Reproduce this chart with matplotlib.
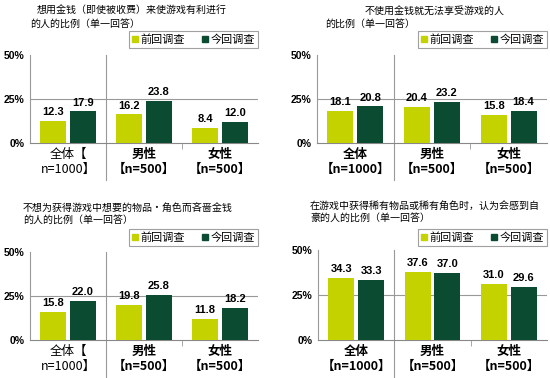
import numpy as np
import matplotlib
matplotlib.use("Agg")
import matplotlib.pyplot as plt
from matplotlib.patches import Patch
from matplotlib.transforms import blended_transform_factory

CJK = ['Noto Sans CJK SC', 'DejaVu Sans']
NUM = ['Liberation Sans', 'DejaVu Sans']

light = '#c4d300'
dark = '#0b4b32'

series_names = ['前回调查', '今回调查']

titles = [
    ['想用金钱（即使被收费）来使游戏有利进行', '的人的比例（单一回答）'],
    ['不使用金钱就无法享受游戏的人', '的比例（单一回答）'],
    ['不想为获得游戏中想要的物品・角色而吝啬金钱', '的人的比例（单一回答）'],
    ['在游戏中获得稀有物品或稀有角色时，认为会感到自', '豪的人的比例（单一回答）'],
]

prev_vals = [
    [12.3, 16.2, 8.4],
    [18.1, 20.4, 15.8],
    [15.8, 19.8, 11.8],
    [34.3, 37.6, 31.0],
]
curr_vals = [
    [17.9, 23.8, 12.0],
    [20.8, 23.2, 18.4],
    [22.0, 25.8, 18.2],
    [33.3, 37.0, 29.6],
]

cat_labels_a = ['全体【\nn=1000】', '男性\n【n=500】', '女性\n【n=500】']
cat_labels_b = ['全体\n【n=1000】', '男性\n【n=500】', '女性\n【n=500】']
cat_sets = [cat_labels_a, cat_labels_b, cat_labels_a, cat_labels_b]

yticks = [0, 25, 50]
ytick_labels = ['0%', '25%', '50%']

W, H = 550, 378
fig = plt.figure(figsize=(5.5, 3.78), dpi=100)

# pixel boxes: (left, right, top, bottom)
axes_px = [(30, 258, 55, 143), (317, 547, 55, 143),
           (30, 258, 252, 340), (318, 547, 250, 340)]
title_px = [((37, 11), (30, 24)), ((365, 12), (325, 24)),
            ((23, 208), (23, 220)), ((310, 206), (310, 218))]
legend_px = [(258, 31), (547, 31), (258, 229), (547, 229)]

x = np.arange(3)
bw = 0.34

for k in range(4):
    l, r, t, b = axes_px[k]
    ax = fig.add_axes([l / W, 1 - b / H, (r - l) / W, (b - t) / H])
    ax.bar(x - 0.195, prev_vals[k], bw, color=light, zorder=3)
    ax.bar(x + 0.195, curr_vals[k], bw, color=dark, zorder=3)
    for i in range(3):
        ax.text(x[i] - 0.195, prev_vals[k][i] + 2.2, f'{prev_vals[k][i]:.1f}',
                ha='center', va='bottom', fontsize=8, fontweight='bold', family=NUM)
        ax.text(x[i] + 0.195, curr_vals[k][i] + 2.2, f'{curr_vals[k][i]:.1f}',
                ha='center', va='bottom', fontsize=8, fontweight='bold', family=NUM)
    ax.set_xlim(-0.5, 2.5)
    ax.set_ylim(0, 50)
    ax.set_yticks(yticks)
    ax.set_yticklabels(ytick_labels, fontsize=7.5, fontweight='bold', family=NUM)
    ax.axhline(25, color='#999999', lw=0.8, zorder=1)
    for s in ['top', 'right']:
        ax.spines[s].set_visible(False)
    ax.spines['left'].set_color('#999999')
    ax.spines['bottom'].set_color('#888888')
    ax.tick_params(axis='y', length=0, pad=4)
    ax.set_xticks([1.5], minor=True)
    ax.tick_params(axis='x', which='minor', length=4, color='#999999')
    ax.set_xticks(x)
    ax.set_xticklabels([])
    ax.tick_params(axis='x', which='major', length=0)
    # long separator between total and gender groups
    trans = blended_transform_factory(ax.transData, ax.transAxes)
    ax.plot([0.5, 0.5], [1.0, -0.42], color='#999999', lw=0.8,
            transform=trans, clip_on=False)
    for i, lab in enumerate(cat_sets[k]):
        bold = not (lab.startswith('全体【'))
        ax.text(x[i], -0.06, lab, transform=trans, ha='center', va='top',
                fontsize=9, fontweight='bold' if bold else 'normal',
                family=CJK, linespacing=1.2)

    (x1, y1), (x2, y2) = title_px[k]
    fig.text(x1 / W, 1 - y1 / H, titles[k][0], fontsize=7.2, family=CJK, va='center')
    fig.text(x2 / W, 1 - y2 / H, titles[k][1], fontsize=7.2, family=CJK, va='center')

    lx, ly = legend_px[k]
    handles = [Patch(color=light), Patch(color=dark)]
    leg = fig.legend(handles, series_names, loc='upper right',
                     bbox_to_anchor=(lx / W, 1 - ly / H), ncol=2, fancybox=False,
                     frameon=True, prop={'family': CJK, 'size': 8},
                     handlelength=0.5, handleheight=0.5, handletextpad=0.2,
                     columnspacing=1.6, borderpad=0.3, borderaxespad=0)
    leg.get_frame().set_edgecolor('#888888')
    leg.get_frame().set_linewidth(0.8)

fig.savefig('out.png', dpi=100)
